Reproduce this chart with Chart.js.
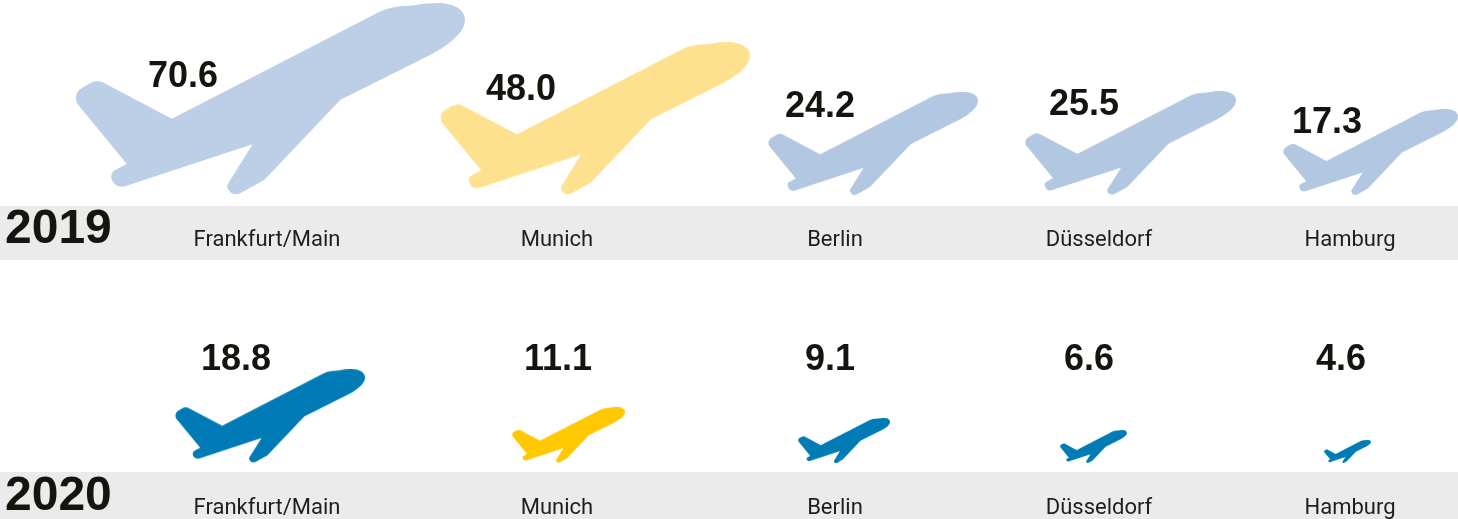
<!DOCTYPE html>
<html lang="en">
<head>
    <meta charset="UTF-8">
    <title>Passengers at German airports</title>
    <script src="https://cdn.jsdelivr.net/npm/chart.js"></script>
    <style>
        html, body { margin: 0; padding: 0; background: #fff; }
        #wrap { width: 1458px; height: 519px; }
    </style>
</head>
<body>
    <div id="wrap"><canvas id="planeChart"></canvas></div>

    <script>
        // data
        const years = ['2019', '2020'];
        const cities = ['Frankfurt/Main', 'Munich', 'Berlin', 'Düsseldorf', 'Hamburg'];
        const values2019 = [70.6, 48.0, 24.2, 25.5, 17.3];
        const values2020 = [18.8, 11.1, 9.1, 6.6, 4.6];

        // layout, in page pixels (the scales run 0-1458 and 0-519)
        const cityX = [267, 557, 835, 1099, 1350];
        const yearY = [230, 497];
        const cityAxisY = [227, 495];
        const rows = [
            { values: values2019, base: 195, band: [206, 260], planeX: [270, 595, 873, 1130.5, 1370.5], planeW: [390, 310, 210, 211, 175],
              labelX: [183, 521, 820, 1084, 1327], labelY: [77, 90, 107, 105, 123],
              colors: ['#BDCFE7', '#FEE18F', '#B2C7E1', '#B2C7E1', '#B2C7E1'] },
            { values: values2020, base: 463, band: [472, 519], planeX: [270, 568.5, 844, 1093.5, 1347.5], planeW: [190, 113, 92, 67, 47],
              labelX: [236, 558, 830, 1089, 1341], labelY: [360, 360, 360, 360, 360],
              colors: ['#007BB6', '#FFC800', '#007BB6', '#007BB6', '#007BB6'] }
        ];

        // outline traced from the large plane
        const PLANE_W = 1168, PLANE_H = 575;
        function planePath() {
            const p = new Path2D();
            p.moveTo(45, 240);
            p.quadraticCurveTo(60, 231, 80, 236);
            p.lineTo(290, 347);
            p.lineTo(915, 25);
            p.quadraticCurveTo(950, 8, 1005, 8);
            p.quadraticCurveTo(1045, 0, 1085, 0);
            p.bezierCurveTo(1135, 0, 1168, 20, 1168, 50);
            p.bezierCurveTo(1168, 90, 1115, 130, 1055, 160);
            p.lineTo(795, 290);
            p.lineTo(567, 530);
            p.lineTo(495, 570);
            p.quadraticCurveTo(465, 580, 456, 552);
            p.quadraticCurveTo(455, 543, 460, 538);
            p.lineTo(532, 423);
            p.lineTo(145, 550);
            p.quadraticCurveTo(115, 553, 108, 520);
            p.quadraticCurveTo(108, 505, 125, 498);
            p.lineTo(155, 482);
            p.lineTo(7, 302);
            p.quadraticCurveTo(-5, 275, 15, 258);
            p.closePath();
            return p;
        }

        function planeImage(width, color) {
            const c = document.createElement('canvas');
            const k = width / PLANE_W;
            c.width = Math.round(width);
            c.height = Math.round(PLANE_H * k);
            const g = c.getContext('2d');
            g.scale(k, k);
            g.fillStyle = color;
            g.fill(planePath());
            return c;
        }

        const datasets = rows.map((row, r) => ({
            label: years[r],
            data: row.values.map((v, i) => ({
                x: row.planeX[i],
                y: row.base - row.planeW[i] * PLANE_H / PLANE_W / 2,
                value: v
            })),
            pointRadius: 10,
            pointHoverRadius: 10,
            clip: false,
            pointStyle: row.planeW.map((w, i) => planeImage(w, row.colors[i]))
        }));

        // grey bands under everything, value labels on top
        const rowDecor = {
            id: 'rowDecor',
            beforeDraw(chart) {
                const { ctx, scales: { x, y } } = chart;
                ctx.save();
                ctx.fillStyle = '#EBEBEB';
                rows.forEach(row => {
                    const top = y.getPixelForValue(row.band[0]);
                    const bottom = y.getPixelForValue(row.band[1]);
                    ctx.fillRect(x.left, top, x.right - x.left, bottom - top);
                });
                ctx.restore();
            },
            afterDatasetsDraw(chart) {
                const { ctx, scales: { x, y } } = chart;
                ctx.save();
                ctx.fillStyle = '#15150F';
                ctx.font = 'bold 36px "Liberation Sans"';
                ctx.textAlign = 'center';
                ctx.textBaseline = 'middle';
                rows.forEach(row => {
                    row.values.forEach((v, i) => {
                        ctx.fillText(v.toFixed(1), x.getPixelForValue(row.labelX[i]), y.getPixelForValue(row.labelY[i]));
                    });
                });
                ctx.restore();
            }
        };

        // tick labels must not pull the chart area in from the page edges
        function noPadding(axis) {
            axis.paddingTop = axis.paddingBottom = axis.paddingLeft = axis.paddingRight = 0;
        }

        function cityAxis(axisY) {
            return {
                type: 'linear',
                min: 0,
                max: 1458,
                position: { y: axisY },
                grid: { display: false, drawTicks: false },
                border: { display: false },
                afterBuildTicks: axis => { axis.ticks = cityX.map(v => ({ value: v })); },
                afterFit: noPadding,
                ticks: {
                    autoSkip: false,
                    maxRotation: 0,
                    padding: 0,
                    color: '#1F1F1A',
                    font: { family: 'Roboto', size: 22 },
                    callback: (v, i) => cities[i]
                }
            };
        }

        new Chart(document.getElementById('planeChart'), {
            type: 'scatter',
            data: { datasets: datasets },
            plugins: [rowDecor],
            options: {
                responsive: true,
                maintainAspectRatio: false,
                animation: false,
                layout: { padding: 0, autoPadding: false },
                plugins: { legend: { display: false }, tooltip: { enabled: false } },
                scales: {
                    x: cityAxis(cityAxisY[0]),
                    x2: cityAxis(cityAxisY[1]),
                    y: {
                        type: 'linear',
                        reverse: true,
                        min: 0,
                        max: 519,
                        position: 'left',
                        grid: { display: false, drawTicks: false },
                        border: { display: false },
                        afterBuildTicks: axis => { axis.ticks = yearY.map(v => ({ value: v })); },
                        afterFit: axis => { noPadding(axis); axis.width = 0; },
                        ticks: {
                            mirror: true,
                            padding: 5,
                            color: '#15150F',
                            font: { family: 'Liberation Sans', size: 48, weight: 'bold' },
                            callback: (v, i) => years[i]
                        }
                    }
                }
            }
        });
    </script>
</body>
</html>
